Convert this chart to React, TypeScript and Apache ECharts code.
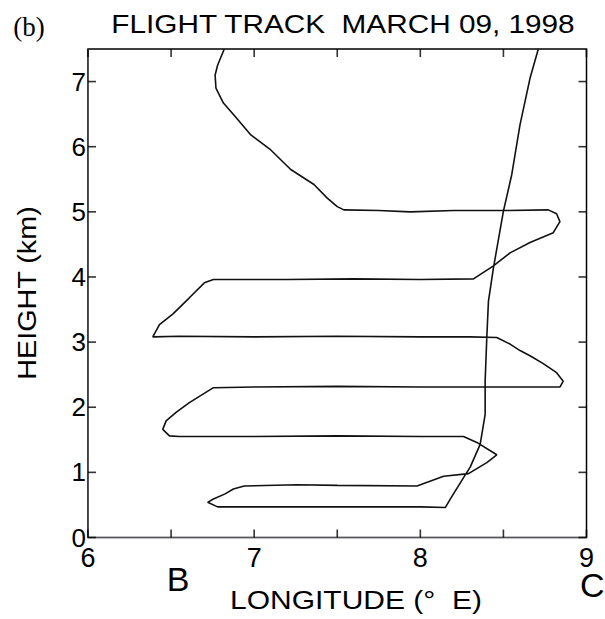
import React, { useEffect, useRef } from "react";
import * as echarts from "echarts";

// Flight track, [longitude (°E), height (km)] pairs, in flight order
const descentUpper: number[][] = [
  [6.82, 7.5], [6.78, 7.25], [6.765, 7.1], [6.77, 6.9], [6.815, 6.67], [6.9, 6.42],
  [6.98, 6.18], [7.1, 5.95], [7.22, 5.65], [7.36, 5.42], [7.44, 5.21], [7.5, 5.08], [7.54, 5.03],
];
const leg5km: number[][] = [
  [7.75, 5.02], [7.94, 5.0], [8.2, 5.02], [8.5, 5.02], [8.77, 5.03], [8.82, 4.97], [8.84, 4.85],
  [8.8, 4.68], [8.66, 4.53], [8.54, 4.37], [8.44, 4.17], [8.32, 3.97],
];
const leg4km: number[][] = [
  [8.0, 3.96], [7.6, 3.97], [7.2, 3.96], [6.755, 3.96], [6.7, 3.91], [6.61, 3.68],
  [6.51, 3.43], [6.43, 3.27], [6.39, 3.08],
];
const leg3km: number[][] = [
  [6.55, 3.09], [7.0, 3.08], [7.5, 3.09], [8.0, 3.08], [8.3, 3.08], [8.46, 3.07], [8.54, 2.97],
  [8.6, 2.87], [8.66, 2.79], [8.74, 2.67], [8.82, 2.53], [8.86, 2.4], [8.84, 2.31],
];
const leg2km: number[][] = [
  [8.5, 2.31], [8.0, 2.31], [7.5, 2.32], [7.0, 2.31], [6.755, 2.3], [6.61, 2.07], [6.53, 1.92],
  [6.47, 1.79], [6.45, 1.66], [6.49, 1.56], [6.55, 1.55],
];
const leg1_5km: number[][] = [
  [7.0, 1.55], [7.5, 1.56], [8.0, 1.55], [8.26, 1.55], [8.34, 1.46], [8.46, 1.27], [8.4, 1.15],
  [8.29, 0.98], [8.14, 0.94], [7.98, 0.79],
];
const leg0_8km: number[][] = [
  [7.5, 0.8], [7.26, 0.81], [6.94, 0.79], [6.875, 0.745], [6.825, 0.67], [6.755, 0.59],
  [6.72, 0.54], [6.78, 0.47],
];
const legLowClimb: number[][] = [
  [7.2, 0.47], [7.6, 0.47], [8.0, 0.47], [8.15, 0.46], [8.18, 0.59], [8.26, 0.92], [8.3, 1.08],
  [8.36, 1.43], [8.39, 1.89], [8.39, 2.4], [8.4, 3.07], [8.41, 3.63], [8.44, 4.14], [8.5, 5.01],
  [8.55, 5.57], [8.6, 6.34], [8.66, 7.05], [8.71, 7.5],
];

// Axis tick marks (inward, on all four sides) and labelled values
const lonTickValues = [6, 6.5, 7, 7.5, 8, 8.5, 9];
const heightTickValues = [0, 1, 2, 3, 4, 5, 6, 7];
const lonLabels = [6, 7, 8, 9];
const heightLabels = [0, 1, 2, 3, 4, 5, 6, 7];
const LON_MIN = 6, LON_MAX = 9, H_MIN = 0, H_MAX = 7.5;

const FONT = "Liberation Sans";
const TICK_LEN = 8;
const TICK_W = 1.6;

const tickSeries = (data: number[][], vertical: boolean, offset: number[]) => ({
  type: "scatter", clip: false, z: 4,
  data,
  symbol: "rect",
  symbolSize: vertical ? [TICK_W, TICK_LEN] : [TICK_LEN, TICK_W],
  symbolOffset: offset,
  itemStyle: { color: "#000" },
});

export default function App() {
  const ref = useRef<HTMLDivElement>(null);
  useEffect(() => {
    document.body.style.margin = "0";
    if (!ref.current) return;
    const chart = echarts.init(ref.current, null, { renderer: "svg" });
    const track = [
      ...descentUpper, ...leg5km, ...leg4km, ...leg3km, ...leg2km, ...leg1_5km, ...leg0_8km, ...legLowClimb,
    ];
    const half = TICK_LEN / 2;
    chart.setOption({
      animation: false,
      backgroundColor: "#fff",
      grid: {
        left: 88, right: 18.5, top: 49, bottom: 81.5,
        show: true, borderColor: "#000", borderWidth: 1.5, backgroundColor: "transparent",
      },
      xAxis: {
        type: "value", min: LON_MIN, max: LON_MAX, interval: 0.5,
        axisTick: { show: false },
        splitLine: { show: false },
        axisLabel: {
          showMinLabel: true, showMaxLabel: true,
          formatter: (v: number) => (lonLabels.includes(v) ? String(v) : ""),
          fontSize: 27, fontFamily: FONT, color: "#000", margin: 7,
        },
      },
      yAxis: {
        type: "value", min: H_MIN, max: H_MAX, interval: 1,
        axisTick: { show: false },
        splitLine: { show: false },
        axisLabel: {
          showMinLabel: true, showMaxLabel: true,
          formatter: (v: number) => (heightLabels.includes(v) ? String(v) : ""),
          fontSize: 26, fontFamily: FONT, color: "#000", margin: 2,
          padding: [5, 0, 0, 0],
        },
      },
      series: [
        {
          type: "line", data: track, showSymbol: false, symbol: "none", smooth: false,
          lineStyle: { color: "#111", width: 1.6 },
        },
        tickSeries(lonTickValues.map((v) => [v, H_MIN]), true, [0, -half]),
        tickSeries(lonTickValues.map((v) => [v, H_MAX]), true, [0, half]),
        tickSeries(heightTickValues.map((v) => [LON_MIN, v]), false, [half, 0]),
        tickSeries(heightTickValues.map((v) => [LON_MAX, v]), false, [-half, 0]),
      ],
      graphic: [
        {
          type: "text", x: 29, y: 27,
          style: { text: "(b)", fontSize: 27, fontFamily: "Liberation Serif", fill: "#000", textAlign: "center", textVerticalAlign: "middle" },
        },
        {
          type: "text", x: 343, y: 24, scaleX: 1.19,
          style: { text: "FLIGHT TRACK  MARCH 09, 1998", fontSize: 25, fontFamily: FONT, fill: "#000", textAlign: "center", textVerticalAlign: "middle" },
        },
        {
          type: "text", x: 28, y: 293, rotation: Math.PI / 2, scaleX: 1.15,
          style: { text: "HEIGHT (km)", fontSize: 25, fontFamily: FONT, fill: "#000", textAlign: "center", textVerticalAlign: "middle" },
        },
        {
          type: "text", x: 356, y: 600, scaleX: 1.2,
          style: { text: "LONGITUDE (°  E)", fontSize: 25, fontFamily: FONT, fill: "#000", textAlign: "center", textVerticalAlign: "middle" },
        },
        {
          type: "text", x: 178, y: 579,
          style: { text: "B", fontSize: 34, fontFamily: FONT, fill: "#000", textAlign: "center", textVerticalAlign: "middle" },
        },
        {
          type: "text", x: 580, y: 585,
          style: { text: "C", fontSize: 34, fontFamily: FONT, fill: "#000", textAlign: "left", textVerticalAlign: "middle" },
        },
      ],
    });
    return () => chart.dispose();
  }, []);
  return (
    <div
      ref={ref}
      style={{ position: "absolute", left: 0, top: 0, width: 605, height: 619, background: "#fff" }}
    />
  );
}
